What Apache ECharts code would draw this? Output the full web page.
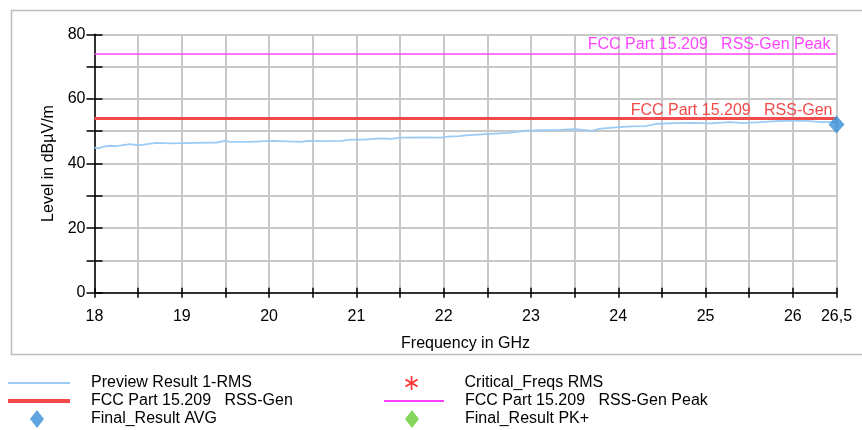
<!DOCTYPE html>
<html><head><meta charset="utf-8">
<script src="https://cdn.jsdelivr.net/npm/echarts/dist/echarts.min.js"></script>
<style>html,body{margin:0;padding:0;background:#fff}#c{width:862px;height:430px}</style>
</head><body><div id="c"></div>
<script>
// ---- data ----
const freqGHz = [18.00,18.05,18.10,18.18,18.25,18.33,18.41,18.46,18.52,18.60,18.71,18.86,19.01,19.17,19.40,19.49,19.55,19.78,20.03,20.37,20.44,20.60,20.83,20.94,21.09,21.28,21.40,21.51,21.78,21.97,22.04,22.18,22.25,22.48,22.75,22.94,23.13,23.32,23.51,23.70,23.78,23.97,24.16,24.31,24.44,24.67,24.86,25.05,25.28,25.43,25.63,25.81,26.04,26.20,26.31,26.50];
const previewRms = [44.9,44.7,45.2,45.5,45.4,45.7,46.0,45.8,45.7,46.0,46.4,46.2,46.3,46.4,46.5,47.0,46.7,46.7,47.0,46.7,47.0,46.9,47.0,47.4,47.4,47.8,47.6,48.0,48.1,48.0,48.3,48.5,48.7,49.1,49.5,50.2,50.3,50.4,50.6,50.1,50.7,51.2,51.5,51.6,52.3,52.5,52.6,52.4,52.8,52.5,52.8,53.1,53.3,53.1,52.8,52.9];
const avgLimitLevel = 54;
const peakLimitLevel = 74;
const finalAvgFreq = [26.5];
const finalAvgLevel = [52.1];
const criticalFreqs = [];
const finalPkFreq = [];
const finalPkLevel = [];
const xMin = 18, xMax = 26.5;
const yMin = 0, yMax = 80;
const names = {
  rms: 'Preview Result 1-RMS',
  crit: 'Critical_Freqs RMS',
  avgLim: 'FCC Part 15.209   RSS-Gen',
  peakLim: 'FCC Part 15.209   RSS-Gen Peak',
  avg: 'Final_Result AVG',
  pk: 'Final_Result PK+'
};

// ---- chart ----
const chart = echarts.init(document.getElementById('c'), null, {renderer: 'canvas'});
const font = 'Liberation Sans, Arial, sans-serif';
const starPath = 'path://M4.4,0 L5.6,0 L5.6,10 L4.4,10 Z M1.02,1.89 L9.68,6.89 L8.98,8.11 L0.32,3.11 Z M0.32,6.89 L8.98,1.89 L9.68,3.11 L1.02,8.11 Z';

const xLabelFmt = v => (Math.abs(v - 26.5) < 1e-6 ? '26,5' : (Math.abs(v - Math.round(v)) < 1e-6 ? String(Math.round(v)) : ''));
const yLabelFmt = v => (v % 20 === 0 ? String(v) : '');

function legendItem(name, left, top, icon, w, h, pad) {
  return {
    data: [name], left: left, top: top, padding: 0, icon: icon,
    itemWidth: w, itemHeight: h, selectedMode: false,
    textStyle: {fontFamily: font, fontSize: 16, color: '#000', padding: [0, 0, 0, pad]}
  };
}

const option = {
  animation: false,
  backgroundColor: '#fff',
  textStyle: {fontFamily: font},
  graphic: [{
    type: 'rect', left: 9, top: 8, silent: true,
    shape: {width: 870, height: 344},
    style: {fill: 'none', stroke: '#bdbdbd', lineWidth: 1.5}
  }],
  grid: {left: 94.5, right: 25.5, top: 34.3, bottom: 137.3, containLabel: false},
  xAxis: [{
    type: 'value', min: xMin, max: xMax, interval: 0.5, position: 'bottom',
    name: 'Frequency in GHz', nameLocation: 'middle', nameGap: 43,
    nameTextStyle: {fontSize: 16, color: '#000', fontFamily: font},
    axisLine: {show: true, onZero: false, lineStyle: {color: '#000', width: 1.5}},
    axisTick: {show: true, length: 5, lineStyle: {color: '#000', width: 1.5}},
    axisLabel: {formatter: xLabelFmt, fontSize: 16, color: '#000', margin: 16, fontFamily: font, showMinLabel: true, showMaxLabel: true, hideOverlap: false},
    splitLine: {show: true, lineStyle: {color: '#c8c8c8', width: 2}}
  }, {
    type: 'value', min: xMin, max: xMax, interval: 0.5, position: 'bottom',
    axisLine: {show: false, onZero: false},
    axisTick: {show: true, inside: true, length: 5, lineStyle: {color: '#000', width: 1.5}},
    axisLabel: {show: false}, splitLine: {show: false}
  }],
  yAxis: [{
    type: 'value', min: yMin, max: yMax, interval: 10, position: 'left',
    name: 'Level in dBµV/m', nameLocation: 'middle', nameGap: 36,
    nameTextStyle: {fontSize: 16, color: '#000', fontFamily: font},
    axisLine: {show: true, onZero: false, lineStyle: {color: '#000', width: 1.5}},
    axisTick: {show: true, length: 8, lineStyle: {color: '#000', width: 1.5}},
    axisLabel: {formatter: yLabelFmt, fontSize: 16, color: '#000', margin: 9, fontFamily: font},
    splitLine: {show: true, lineStyle: {color: '#c8c8c8', width: 2}}
  }, {
    type: 'value', min: yMin, max: yMax, interval: 10, position: 'left',
    axisLine: {show: false, onZero: false},
    axisTick: {show: true, inside: true, length: 8, lineStyle: {color: '#000', width: 1.5}},
    axisLabel: {show: false}, splitLine: {show: false}
  }],
  legend: [
    legendItem(names.rms, 8, 375, 'rect', 62, 2, 16),
    legendItem(names.avgLim, 8, 393, 'rect', 62, 4, 16),
    legendItem(names.avg, 30, 410, 'diamond', 14, 18, 42),
    legendItem(names.crit, 405, 375, starPath, 14, 14, 41),
    legendItem(names.peakLim, 384, 393, 'rect', 60, 2, 16),
    legendItem(names.pk, 405, 410, 'diamond', 14, 18, 41)
  ],
  series: [
    {
      name: names.rms, type: 'line', xAxisIndex: 0, yAxisIndex: 0,
      data: freqGHz.map((f, i) => [f, previewRms[i]]),
      showSymbol: false, symbol: 'none', color: '#9ccbf5',
      lineStyle: {color: '#9ccbf5', width: 1.8}, z: 3
    },
    {
      name: names.crit, type: 'scatter', data: criticalFreqs,
      symbol: starPath, symbolSize: 14, color: '#ff0000'
    },
    {
      name: names.avgLim, type: 'line', data: [], color: '#f24a4a',
      lineStyle: {color: '#f24a4a', width: 3},
      markLine: {
        silent: true, symbol: 'none', animation: false,
        lineStyle: {color: '#f24a4a', width: 3, type: 'solid'},
        label: {show: true, position: 'insideEndTop', formatter: names.avgLim, color: '#f24a4a', fontSize: 16, fontFamily: font, distance: [4, 0]},
        data: [{yAxis: avgLimitLevel}]
      }, z: 2
    },
    {
      name: names.peakLim, type: 'line', data: [], color: '#ff44ff',
      lineStyle: {color: '#ff44ff', width: 1.5},
      markLine: {
        silent: true, symbol: 'none', animation: false,
        lineStyle: {color: '#ff44ff', width: 1.5, type: 'solid'},
        label: {show: true, position: 'insideEndTop', formatter: names.peakLim, color: '#ff44ff', fontSize: 16, fontFamily: font, distance: [6, 1]},
        data: [{yAxis: peakLimitLevel}]
      }, z: 2
    },
    {
      name: names.avg, type: 'scatter',
      data: finalAvgFreq.map((f, i) => [f, finalAvgLevel[i]]),
      symbol: 'diamond', symbolSize: [16, 18], color: '#3a8fd8', z: 5
    },
    {
      name: names.pk, type: 'scatter',
      data: finalPkFreq.map((f, i) => [f, finalPkLevel[i]]),
      symbol: 'diamond', symbolSize: [16, 18], color: '#66cc33', z: 5
    }
  ]
};
chart.setOption(option);
</script>
</body></html>
